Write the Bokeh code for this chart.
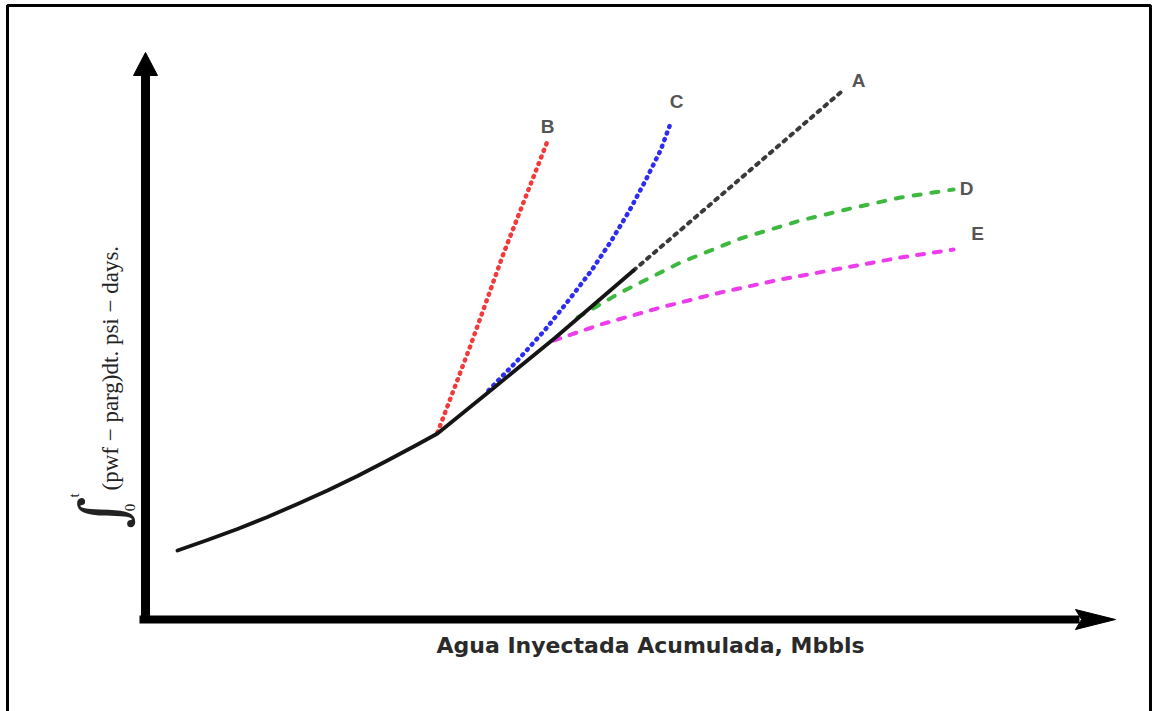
import numpy as np
from bokeh.plotting import figure
from bokeh.models import Range1d
from bokeh.core.properties import value
from bokeh.embed import file_html
from bokeh.resources import INLINE

# Cumulative injected water (Mbbls, arbitrary scale) vs. Hall integral (psi-days, arbitrary scale)
base_x = [0.32, 0.62, 0.92, 1.22, 1.52, 1.82, 2.12, 2.42, 2.72, 2.92]
base_y = [1.36, 1.57, 1.79, 2.03, 2.29, 2.56, 2.85, 3.16, 3.48, 3.70]

linear_x = [2.92, 3.50, 4.10, 4.88]
linear_y = [3.70, 4.64, 5.62, 6.96]

curve_a_x = [4.88, 6.95]
curve_a_y = [6.96, 10.52]

curve_b_x = [2.92, 3.25, 3.58, 4.03]
curve_b_y = [3.72, 5.46, 7.30, 9.60]

curve_c_x = [3.43, 3.72, 3.99, 4.23, 4.46, 4.66, 4.84, 5.00, 5.15, 5.25]
curve_c_y = [4.56, 5.16, 5.76, 6.36, 6.96, 7.56, 8.16, 8.76, 9.36, 9.90]

curve_d_x = [4.32, 4.75, 5.35, 5.95, 6.55, 7.05, 7.55, 8.08]
curve_d_y = [6.02, 6.52, 7.12, 7.60, 7.96, 8.20, 8.42, 8.58]

curve_e_x = [4.08, 4.55, 5.15, 5.75, 6.35, 6.95, 7.55, 8.08]
curve_e_y = [5.56, 5.88, 6.22, 6.52, 6.78, 7.00, 7.22, 7.38]

curve_names = ["A", "B", "C", "D", "E"]
name_x = [7.13, 4.02, 5.31, 8.21, 8.32]
name_y = [10.76, 9.84, 10.34, 8.60, 7.70]

x_title = "Agua Inyectada Acumulada, Mbbls"
y_title = "(pwf \u2212 parg)dt. psi \u2212 days."

W, H = 1152, 711
X0, X1 = -1.45, 10.07
Y0, Y1 = -1.86, 12.36

p = figure(width=W, height=H, output_backend="svg", toolbar_location=None,
           x_range=Range1d(X0, X1), y_range=Range1d(Y0, Y1),
           x_axis_type=None, y_axis_type=None, min_border=0,
           background_fill_color="white", border_fill_color="white")
p.grid.visible = False
p.outline_line_color = None

# unit sizes in screen pixels
ux = W / (X1 - X0)
uy = H / (Y1 - Y0)

# page frame
p.line([X0 + 7 / ux, X0 + 7 / ux, X1 - 2 / ux, X1 - 2 / ux],
       [Y0 - 1, Y1 - 5 / uy, Y1 - 5 / uy, Y0 - 1],
       line_color="black", line_width=3)

# axis arrows
y_tip = 11.32
x_tip = 9.70
p.line([0, 0], [-0.07, y_tip - 22 / uy], line_color="black", line_width=9)
p.patch([-12 / ux, 0, 12 / ux], [y_tip - 23 / uy, y_tip, y_tip - 23 / uy],
        color="black")
p.line([-0.06, x_tip - 36 / ux], [-0.02, -0.02], line_color="black", line_width=8)
p.patch([x_tip - 40 / ux, x_tip, x_tip - 40 / ux, x_tip - 34 / ux],
        [-0.02 + 10 / uy, -0.02, -0.02 - 10 / uy, -0.02],
        color="black")

# branch curves
p.line(curve_b_x, curve_b_y, line_color="#f23a3a", line_width=4.5,
       line_dash="1 6", line_cap="round")
p.line(curve_c_x, curve_c_y, line_color="#2d2df2", line_width=4.5,
       line_dash="1 6", line_cap="round", line_join="round")
p.line(curve_d_x, curve_d_y, line_color="#3fb83f", line_width=4,
       line_dash="7 11", line_cap="round", line_join="round")
p.line(curve_e_x, curve_e_y, line_color="#ec3cec", line_width=4,
       line_dash="7 10", line_cap="round", line_join="round")
p.line(curve_a_x, curve_a_y, line_color="#3a3a3a", line_width=4,
       line_dash="3 6", line_cap="round")

# main trend
p.line(base_x + linear_x[1:], base_y + linear_y[1:], line_color="#151515",
       line_width=3.8, line_cap="round", line_join="round")

# curve names
p.text(name_x, name_y, text=curve_names, text_font=value("Liberation Sans"),
       text_font_style="bold", text_font_size="19px", text_color="#555555",
       text_align="center", text_baseline="middle")

# axis titles
p.text([5.05], [-0.54], text=[x_title], text_font=value("DejaVu Sans"),
       text_font_style="bold", text_font_size="22px", text_color="#2a2a2a",
       text_align="center", text_baseline="middle")

p.text([-0.35], [2.56], text=[y_title], angle=np.pi / 2,
       text_font=value("Liberation Serif"), text_font_size="23px",
       text_color="#222222", text_align="left", text_baseline="alphabetic")
p.text([-0.43], [2.12], text=["\u222b"], angle=np.pi / 2,
       text_font=value("DejaVu Serif"), text_font_size="62px",
       text_color="#222222", text_align="center", text_baseline="middle")
p.text([-0.72], [2.46], text=["t"], angle=np.pi / 2,
       text_font=value("Liberation Serif"), text_font_size="15px",
       text_color="#222222", text_align="center", text_baseline="middle")
p.text([-0.16], [2.22], text=["0"], angle=np.pi / 2,
       text_font=value("Liberation Serif"), text_font_size="15px",
       text_color="#222222", text_align="center", text_baseline="middle")

open("out.html", "w").write(file_html(p, INLINE))
